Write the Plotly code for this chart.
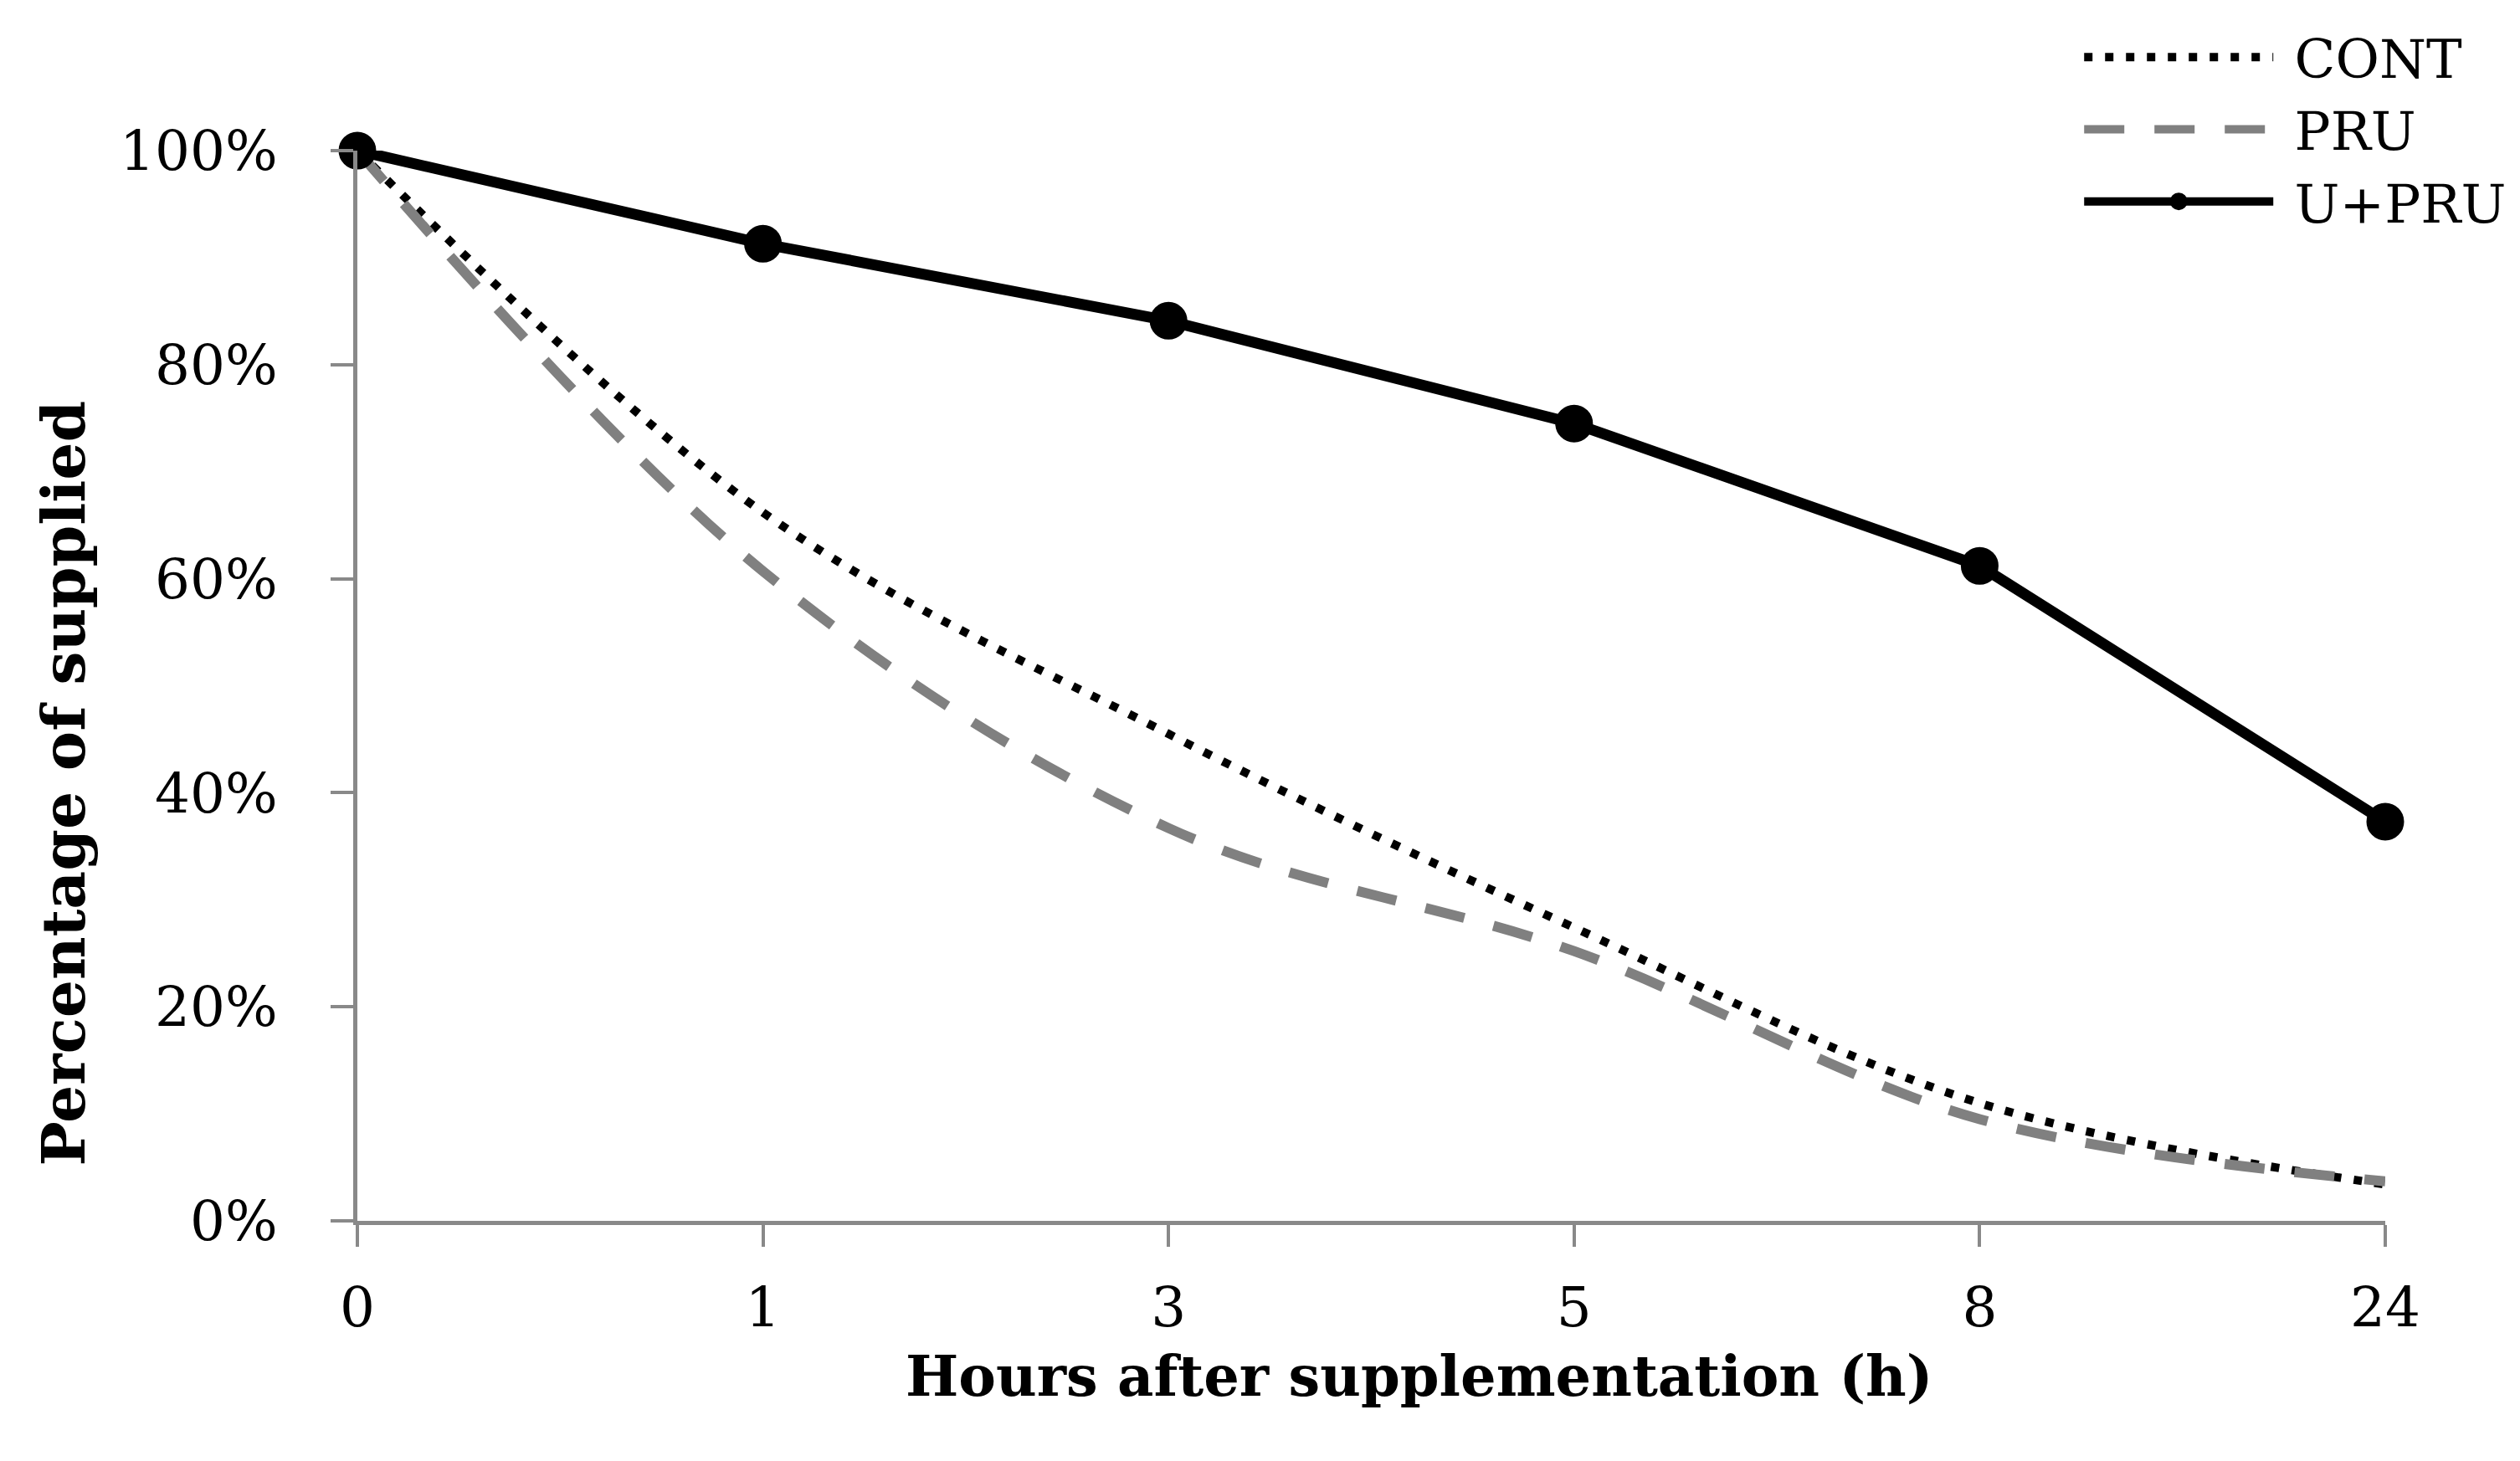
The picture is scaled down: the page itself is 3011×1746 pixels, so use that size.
import plotly.graph_objects as go

hours = ["0", "1", "3", "5", "8", "24"]
cont = [1.00, 0.662, 0.455, 0.274, 0.110, 0.034]
pru = [1.00, 0.607, 0.367, 0.252, 0.095, 0.037]
upru = [1.00, 0.913, 0.841, 0.745, 0.612, 0.373]

x_title = "Hours after supplementation (h)"
y_title = "Percentage of supplied"

FONT = "DejaVu Serif"
AXIS_COLOR = "#898989"

fig = go.Figure()
fig.add_trace(go.Scatter(
    x=hours, y=cont, name=" CONT", mode="lines",
    line=dict(color="black", width=10, dash="10px,15px", shape="spline"),
    cliponaxis=False,
))
fig.add_trace(go.Scatter(
    x=hours, y=pru, name=" PRU", mode="lines",
    line=dict(color="#808080", width=12, dash="48px,36px", shape="spline"),
    cliponaxis=False,
))
fig.add_trace(go.Scatter(
    x=hours, y=upru, name=" U+PRU", mode="lines+markers",
    line=dict(color="black", width=13),
    marker=dict(color="black", size=40, symbol="circle",
                line=dict(color="black", width=5)),
    cliponaxis=False,
))

fig.update_layout(
    width=3011, height=1746,
    margin=dict(l=419, r=169, t=155, b=295),
    paper_bgcolor="white", plot_bgcolor="white",
    font=dict(family=FONT, color="black", size=66),
    showlegend=True,
    legend=dict(
        x=1.062, y=1.125, xanchor="right", yanchor="top",
        font=dict(family=FONT, size=64, color="black"),
        itemwidth=226, tracegroupgap=0,
        bgcolor="rgba(0,0,0,0)",
    ),
    xaxis=dict(
        type="category", range=[0, 5],
        showline=True, linecolor=AXIS_COLOR, linewidth=5,
        ticks="outside", ticklen=26, tickwidth=4, tickcolor=AXIS_COLOR,
        showgrid=False, zeroline=False,
        tickfont=dict(family=FONT, size=66, color="black"),
        ticklabelstandoff=16,
    ),
    yaxis=dict(
        range=[0, 1], tickvals=[0, 0.2, 0.4, 0.6, 0.8, 1.0], tickformat=".0%",
        showline=True, linecolor=AXIS_COLOR, linewidth=5,
        ticks="outside", ticklen=27, tickwidth=4, tickcolor=AXIS_COLOR,
        showgrid=False, zeroline=False,
        tickfont=dict(family=FONT, size=66, color="black"),
        ticklabelstandoff=50,
    ),
    annotations=[
        dict(text="<b>" + x_title + "</b>", xref="paper", yref="paper",
             x=0.5237, y=-0.145, xanchor="center", yanchor="middle",
             showarrow=False, font=dict(family=FONT, size=67, color="black")),
        dict(text="<b>" + y_title + "</b>", xref="paper", yref="paper",
             x=-0.145, y=0.409, xanchor="center", yanchor="middle", textangle=-90,
             showarrow=False, font=dict(family=FONT, size=71, color="black")),
    ],
)

fig.write_html("out.html")
